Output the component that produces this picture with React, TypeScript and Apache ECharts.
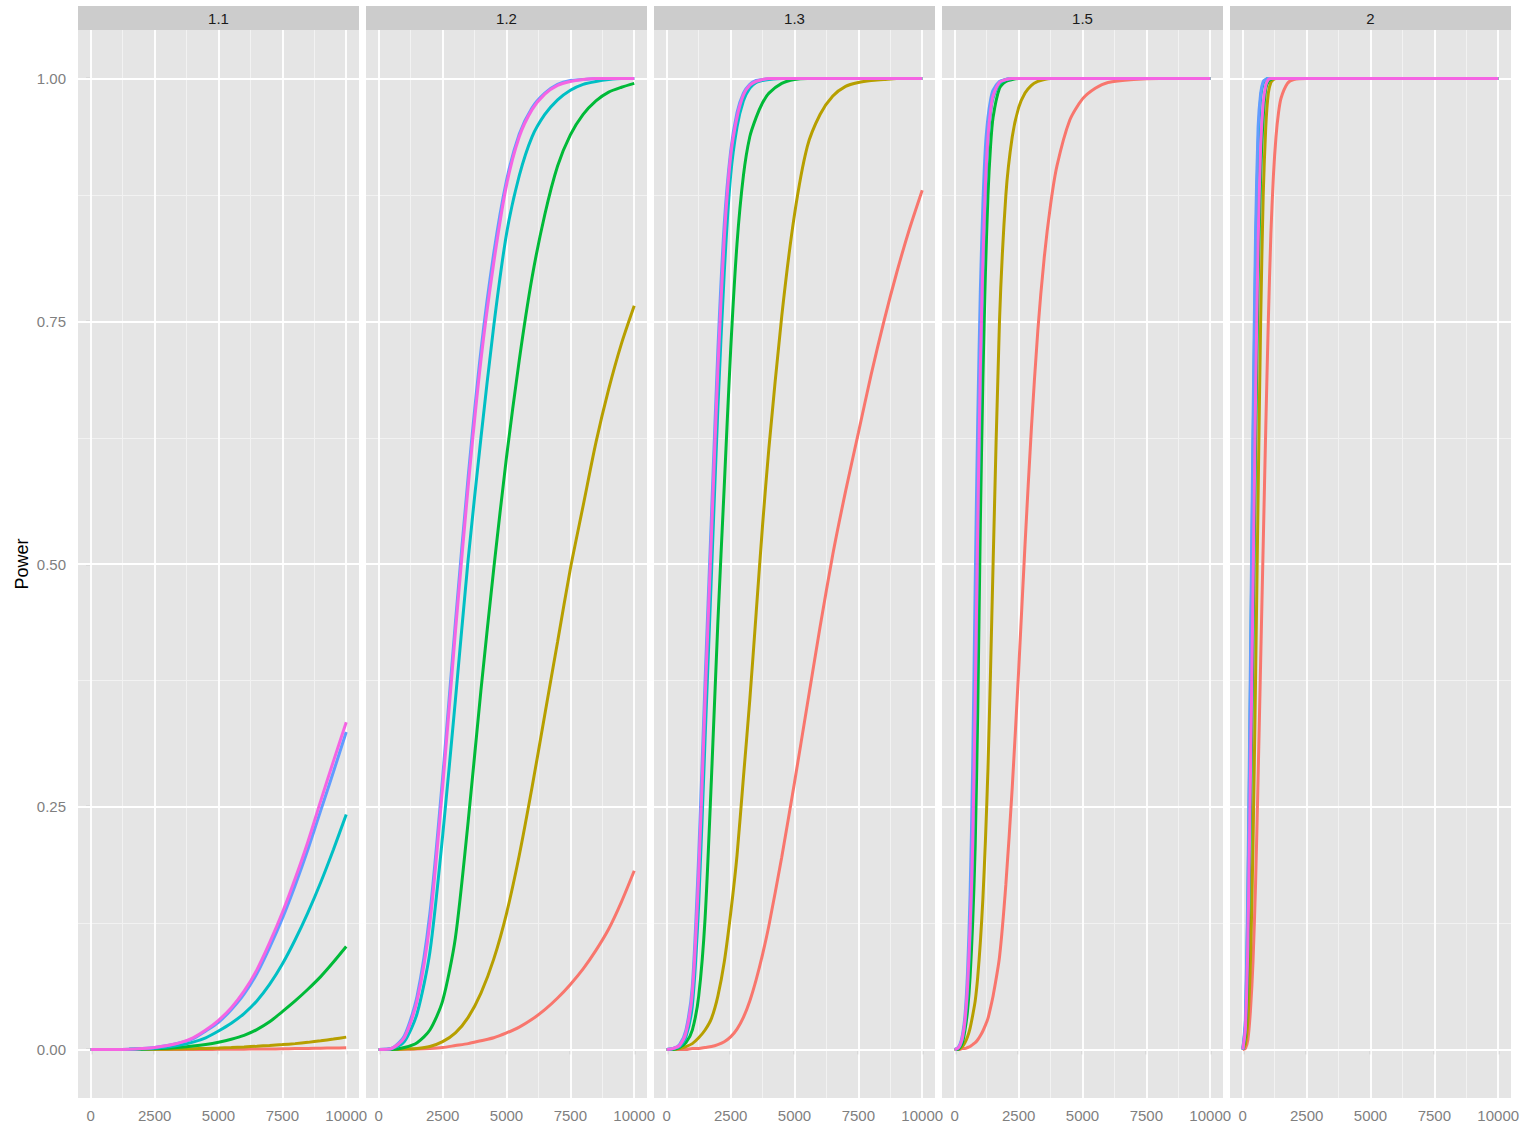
import React, { useEffect, useRef } from "react";
import * as echarts from "echarts";

// Facet labels (effect ratio) and the six curve groups, drawn in this order
const PANELS = ["1.1", "1.2", "1.3", "1.5", "2"];
const GROUPS = ["A", "B", "C", "D", "E", "F"];
const COLORS = ["#F8766D", "#B79F00", "#00BA38", "#00BFC4", "#619CFF", "#F564E3"];

const X_TICKS = [0, 2500, 5000, 7500, 10000];
const X_MINOR = [1250, 3750, 6250, 8750];
const Y_TICKS = [0, 0.25, 0.5, 0.75, 1];
const Y_MINOR = [0.125, 0.375, 0.625, 0.875];

// ---- facet 1.1 ----
const n11 = [0, 500, 1000, 1500, 2000, 2500, 3000, 3500, 4000, 4500, 5000, 5500, 6000, 6500, 7000, 7500, 8000, 8500, 9000, 9500, 10000];
const a11 = [0, 0, 0, 0, 0, 0, 0, 0, 0, 0, 0.0001, 0.0002, 0.0003, 0.0004, 0.0005, 0.0007, 0.0009, 0.0011, 0.0013, 0.0015, 0.0017];
const b11 = [0, 0, 0, 0, 0.0001, 0.0002, 0.0003, 0.0005, 0.0008, 0.0011, 0.0015, 0.002, 0.0026, 0.0033, 0.0041, 0.005, 0.006, 0.0073, 0.0089, 0.0107, 0.0127];
const c11 = [0, 0, 0, 0.0001, 0.0003, 0.0007, 0.0013, 0.0022, 0.0035, 0.0052, 0.0075, 0.0105, 0.0145, 0.0205, 0.0285, 0.039, 0.05, 0.062, 0.075, 0.09, 0.106];
const d11 = [0, 0, 0, 0.0002, 0.0006, 0.0013, 0.0025, 0.0045, 0.0075, 0.012, 0.019, 0.027, 0.037, 0.05, 0.067, 0.088, 0.113, 0.141, 0.172, 0.206, 0.242];
const e11 = [0, 0, 0, 0.0003, 0.001, 0.002, 0.004, 0.007, 0.011, 0.019, 0.028, 0.041, 0.057, 0.078, 0.105, 0.135, 0.169, 0.206, 0.246, 0.286, 0.327];
const f11 = [0, 0, 0, 0.0003, 0.001, 0.002, 0.004, 0.007, 0.012, 0.02, 0.03, 0.043, 0.06, 0.082, 0.11, 0.141, 0.176, 0.214, 0.256, 0.297, 0.337];

// ---- facet 1.2 ----
const n12 = [0, 500, 1000, 1500, 2000, 2500, 3000, 3500, 4000, 4500, 5000, 5500, 6000, 6500, 7000, 7500, 8000, 8500, 9000, 9500, 10000];
const a12 = [0, 0, 0.0002, 0.0005, 0.001, 0.002, 0.004, 0.006, 0.009, 0.012, 0.017, 0.023, 0.031, 0.041, 0.053, 0.067, 0.083, 0.102, 0.124, 0.152, 0.184];
const b12 = [0, 0, 0.0005, 0.001, 0.003, 0.008, 0.017, 0.033, 0.058, 0.093, 0.14, 0.2, 0.27, 0.345, 0.42, 0.495, 0.56, 0.625, 0.68, 0.727, 0.766];
const c12 = [0, 0, 0.002, 0.007, 0.02, 0.05, 0.115, 0.235, 0.37, 0.495, 0.61, 0.71, 0.795, 0.86, 0.91, 0.942, 0.963, 0.977, 0.986, 0.991, 0.995];
const d12 = [0, 0.001, 0.008, 0.037, 0.1, 0.22, 0.36, 0.505, 0.63, 0.745, 0.84, 0.9, 0.94, 0.963, 0.978, 0.988, 0.994, 0.997, 0.999, 1, 1];
const e12 = [0, 0.001, 0.014, 0.055, 0.14, 0.28, 0.44, 0.59, 0.72, 0.82, 0.895, 0.943, 0.97, 0.985, 0.994, 0.998, 0.999, 1, 1, 1, 1];
const f12 = [0, 0.001, 0.012, 0.05, 0.13, 0.27, 0.43, 0.58, 0.71, 0.81, 0.89, 0.94, 0.968, 0.984, 0.993, 0.997, 0.999, 1, 1, 1, 1];

// ---- facet 1.3 ----
const n13 = [0, 250, 500, 750, 1000, 1250, 1500, 1750, 2000, 2250, 2500, 2750, 3000, 3250, 3500, 3750, 4000, 4500, 5000, 5500, 6000, 6500, 7000, 7500, 8000, 8500, 9000, 9500, 10000];
const a13 = [0, 0, 0, 0, 0.001, 0.001, 0.002, 0.003, 0.005, 0.008, 0.013, 0.021, 0.033, 0.05, 0.072, 0.098, 0.128, 0.198, 0.275, 0.355, 0.435, 0.51, 0.575, 0.635, 0.695, 0.75, 0.8, 0.845, 0.885];
const b13 = [0, 0, 0.001, 0.003, 0.006, 0.012, 0.02, 0.032, 0.055, 0.09, 0.14, 0.2, 0.28, 0.36, 0.45, 0.54, 0.62, 0.755, 0.86, 0.93, 0.963, 0.982, 0.992, 0.996, 0.998, 0.999, 1, 1, 1];
const c13 = [0, 0, 0.002, 0.007, 0.02, 0.055, 0.135, 0.28, 0.44, 0.58, 0.72, 0.83, 0.9, 0.94, 0.96, 0.975, 0.985, 0.995, 0.999, 1, 1, 1, 1, 1, 1, 1, 1, 1, 1];
const d13 = [0, 0.001, 0.003, 0.013, 0.045, 0.15, 0.32, 0.49, 0.66, 0.8, 0.9, 0.95, 0.977, 0.99, 0.996, 0.998, 0.999, 1, 1, 1, 1, 1, 1, 1, 1, 1, 1, 1, 1];
const e13 = [0, 0.001, 0.005, 0.02, 0.065, 0.2, 0.38, 0.55, 0.72, 0.85, 0.925, 0.965, 0.985, 0.994, 0.998, 0.999, 1, 1, 1, 1, 1, 1, 1, 1, 1, 1, 1, 1, 1];
const f13 = [0, 0.001, 0.004, 0.017, 0.058, 0.18, 0.36, 0.53, 0.7, 0.835, 0.92, 0.96, 0.983, 0.993, 0.997, 0.999, 1, 1, 1, 1, 1, 1, 1, 1, 1, 1, 1, 1, 1];

// ---- facet 1.5 ----
const n15 = [0, 100, 200, 300, 400, 500, 600, 700, 800, 900, 1000, 1100, 1200, 1300, 1400, 1500, 1750, 2000, 2250, 2500, 2750, 3000, 3250, 3500, 3750, 4000, 4500, 5000, 5500, 6000, 7000, 8000, 10000];
const a15 = [0, 0, 0, 0.001, 0.001, 0.002, 0.003, 0.005, 0.007, 0.01, 0.014, 0.019, 0.025, 0.032, 0.043, 0.055, 0.095, 0.17, 0.27, 0.39, 0.52, 0.64, 0.74, 0.815, 0.87, 0.91, 0.957, 0.979, 0.99, 0.996, 0.999, 1, 1];
const b15 = [0, 0, 0.001, 0.003, 0.007, 0.013, 0.022, 0.035, 0.05, 0.075, 0.11, 0.155, 0.215, 0.29, 0.39, 0.5, 0.75, 0.88, 0.94, 0.97, 0.985, 0.993, 0.997, 0.999, 1, 1, 1, 1, 1, 1, 1, 1, 1];
const c15 = [0, 0, 0.002, 0.007, 0.02, 0.04, 0.075, 0.13, 0.21, 0.35, 0.54, 0.69, 0.8, 0.88, 0.93, 0.96, 0.99, 0.997, 0.999, 1, 1, 1, 1, 1, 1, 1, 1, 1, 1, 1, 1, 1, 1];
const d15 = [0, 0.001, 0.004, 0.011, 0.028, 0.06, 0.115, 0.2, 0.34, 0.52, 0.68, 0.8, 0.88, 0.935, 0.965, 0.98, 0.995, 0.999, 1, 1, 1, 1, 1, 1, 1, 1, 1, 1, 1, 1, 1, 1, 1];
const e15 = [0, 0.001, 0.005, 0.015, 0.035, 0.08, 0.16, 0.29, 0.48, 0.65, 0.78, 0.87, 0.93, 0.96, 0.978, 0.988, 0.997, 0.999, 1, 1, 1, 1, 1, 1, 1, 1, 1, 1, 1, 1, 1, 1, 1];
const f15 = [0, 0.001, 0.004, 0.012, 0.03, 0.065, 0.125, 0.21, 0.36, 0.54, 0.7, 0.81, 0.89, 0.94, 0.967, 0.982, 0.996, 0.999, 1, 1, 1, 1, 1, 1, 1, 1, 1, 1, 1, 1, 1, 1, 1];

// ---- facet 2 ----
const n2 = [0, 100, 200, 300, 400, 500, 600, 700, 800, 900, 1000, 1100, 1200, 1300, 1400, 1500, 1750, 2000, 2500, 3000, 5000, 10000];
const a2 = [0, 0.001, 0.01, 0.04, 0.09, 0.17, 0.28, 0.4, 0.52, 0.64, 0.75, 0.84, 0.9, 0.94, 0.965, 0.98, 0.995, 0.999, 1, 1, 1, 1];
const b2 = [0, 0.005, 0.03, 0.09, 0.21, 0.38, 0.57, 0.75, 0.88, 0.95, 0.985, 0.996, 0.999, 1, 1, 1, 1, 1, 1, 1, 1, 1];
const c2 = [0, 0.015, 0.09, 0.24, 0.42, 0.62, 0.79, 0.9, 0.96, 0.99, 0.997, 0.999, 1, 1, 1, 1, 1, 1, 1, 1, 1, 1];
const d2 = [0, 0.025, 0.15, 0.37, 0.61, 0.81, 0.93, 0.98, 0.995, 0.999, 1, 1, 1, 1, 1, 1, 1, 1, 1, 1, 1, 1];
const e2 = [0, 0.03, 0.17, 0.4, 0.64, 0.84, 0.95, 0.985, 0.997, 0.999, 1, 1, 1, 1, 1, 1, 1, 1, 1, 1, 1, 1];
const f2 = [0, 0.02, 0.11, 0.28, 0.47, 0.67, 0.83, 0.93, 0.975, 0.993, 0.999, 1, 1, 1, 1, 1, 1, 1, 1, 1, 1, 1];

const PANEL_N = [n11, n12, n13, n15, n2];
const PANEL_POWER = [
  [a11, b11, c11, d11, e11, f11],
  [a12, b12, c12, d12, e12, f12],
  [a13, b13, c13, d13, e13, f13],
  [a15, b15, c15, d15, e15, f15],
  [a2, b2, c2, d2, e2, f2],
];

const FONT = "'Liberation Sans', Arial, Helvetica, sans-serif";
const PANEL_LEFT = 78;
const PANEL_STEP = 288;
const PANEL_W = 281;
const PANEL_TOP = 30;
const PANEL_H = 1068;

function buildOption() {
  const grid: any[] = [];
  const xAxis: any[] = [];
  const yAxis: any[] = [];
  const series: any[] = [];
  const graphic: any[] = [];

  const major = { color: "#FFFFFF", width: 1.8, type: "solid" };
  const minor = { color: "#F2F2F2", width: 1, type: "solid" };

  PANELS.forEach((label, i) => {
    const left = PANEL_LEFT + PANEL_STEP * i;
    grid.push({
      left,
      top: PANEL_TOP,
      width: PANEL_W,
      height: PANEL_H,
      show: true,
      backgroundColor: "#E5E5E5",
      borderWidth: 0,
      containLabel: false,
    });
    xAxis.push({
      type: "value",
      gridIndex: i,
      min: -500,
      max: 10500,
      splitLine: { show: false },
      axisLine: { show: false },
      axisTick: {
        show: true,
        length: 5,
        customValues: X_TICKS,
        lineStyle: { color: "#6E6E6E", width: 1.2 },
      },
      axisLabel: {
        customValues: X_TICKS,
        color: "#7F7F7F",
        fontSize: 15,
        fontFamily: FONT,
        margin: 10,
        formatter: (v: number) => String(v),
      },
    });
    yAxis.push({
      type: "value",
      gridIndex: i,
      min: -0.05,
      max: 1.05,
      show: i === 0,
      name: i === 0 ? "Power" : "",
      nameLocation: "middle",
      nameRotate: 90,
      nameGap: 47,
      nameTextStyle: { color: "#000000", fontSize: 18, fontFamily: FONT },
      splitLine: { show: false },
      axisLine: { show: false },
      axisTick: {
        show: true,
        length: 5,
        customValues: Y_TICKS,
        lineStyle: { color: "#6E6E6E", width: 1.2 },
      },
      axisLabel: {
        customValues: Y_TICKS,
        color: "#7F7F7F",
        fontSize: 15,
        fontFamily: FONT,
        margin: 12,
        formatter: (v: number) => v.toFixed(2),
      },
    });

    // panel grid lines (minor first, major on top), kept beneath the curves
    series.push({
      type: "line",
      name: `grid-${label}`,
      xAxisIndex: i,
      yAxisIndex: i,
      data: [],
      silent: true,
      z: 1,
      markLine: {
        z: 1,
        silent: true,
        animation: false,
        symbol: ["none", "none"],
        label: { show: false },
        emphasis: { disabled: true },
        data: [
          ...X_MINOR.map((v) => ({ xAxis: v, lineStyle: minor })),
          ...Y_MINOR.map((v) => ({ yAxis: v, lineStyle: minor })),
          ...X_TICKS.map((v) => ({ xAxis: v, lineStyle: major })),
          ...Y_TICKS.map((v) => ({ yAxis: v, lineStyle: major })),
        ],
      },
    });

    const ns = PANEL_N[i];
    PANEL_POWER[i].forEach((ys, g) => {
      series.push({
        type: "line",
        name: `${GROUPS[g]} ${label}`,
        xAxisIndex: i,
        yAxisIndex: i,
        data: ns.map((n, k) => [n, ys[k]]),
        showSymbol: false,
        symbol: "none",
        smooth: 0.25,
        z: 6,
        lineStyle: { color: COLORS[g], width: 3 },
        itemStyle: { color: COLORS[g] },
        emphasis: { disabled: true },
      });
    });

    // facet strip
    graphic.push({
      type: "rect",
      shape: { x: left, y: 6, width: PANEL_W, height: 24 },
      style: { fill: "#CCCCCC" },
      silent: true,
    });
    graphic.push({
      type: "text",
      x: left + PANEL_W / 2,
      y: 18.5,
      style: {
        text: label,
        fill: "#1A1A1A",
        fontSize: 15,
        fontFamily: FONT,
        align: "center",
        verticalAlign: "middle",
      },
      silent: true,
    });
  });

  return {
    animation: false,
    backgroundColor: "#FFFFFF",
    textStyle: { fontFamily: FONT },
    grid,
    xAxis,
    yAxis,
    series,
    graphic,
  };
}

export default function App() {
  const ref = useRef<HTMLDivElement>(null);

  useEffect(() => {
    if (!ref.current) return;
    const chart = echarts.init(ref.current, undefined, { renderer: "svg" });
    chart.setOption(buildOption() as any);
    return () => chart.dispose();
  }, []);

  return (
    <div
      ref={ref}
      style={{ position: "absolute", left: 0, top: 0, width: 1528, height: 1131 }}
    />
  );
}
